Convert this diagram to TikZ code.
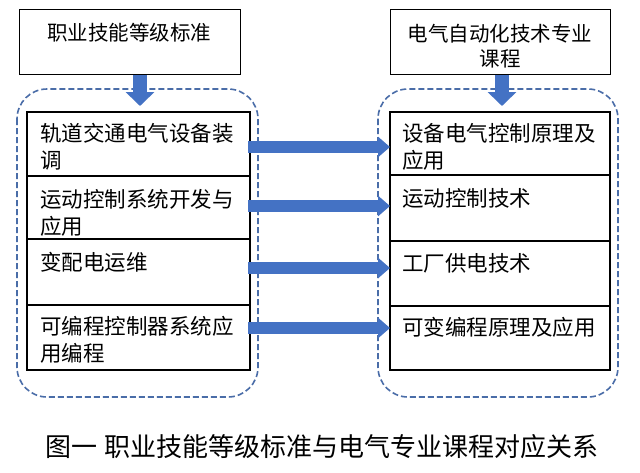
\documentclass[tikz,border=0pt]{standalone}
\usepackage{fontspec}
\setmainfont{Noto Sans CJK SC}
\usetikzlibrary{arrows.meta}
\definecolor{arrowblue}{HTML}{4472C4}
\definecolor{dashblue}{HTML}{4A6DA8}
\tikzset{
  topbox/.style={draw=black, line width=1.2pt, fill=white},
  rowbox/.style={draw=black, line width=1.2pt},
  grp/.style={draw=dashblue, line width=1.6pt, dash pattern=on 6pt off 3pt, rounded corners=30pt},
  fat/.style={draw=arrowblue, line width=12pt, -{Triangle[length=12pt,width=20pt]}},
  downfat/.style={draw=arrowblue, line width=14pt, -{Triangle[length=14pt,width=28pt]}},
  txt/.style={font=\fontsize{21.5}{26.5}\selectfont, align=left, anchor=base west, inner sep=0pt},
}
\begin{document}
\begin{tikzpicture}[x=1pt,y=-1pt]
\useasboundingbox[fill=white] (0,0) rectangle (640,472);
% dashed groups
\draw[grp] (17,89) rectangle (258,397);
\draw[grp] (378,89) rectangle (618,397);
% top boxes
\node[topbox, minimum width=221pt, minimum height=65pt, anchor=north west] (lt) at (19,9) {};
\node[font=\fontsize{20.5}{25}\selectfont, inner sep=0pt, anchor=base] (ltt) at (129,40) {职业技能等级标准};
\node[topbox, minimum width=220pt, minimum height=65pt, anchor=north west] (rt) at (390,9) {};
\node[font=\fontsize{20.5}{25}\selectfont, align=center, inner sep=0pt, anchor=base] (rtt) at (500,66) {电气自动化技术专业\\课程};
% rows
\foreach \a/\b in {112/176, 176/239, 239/305, 305/370}{
  \path[rowbox] (27,\a) rectangle (250,\b);
}
\foreach \a/\b in {112/175, 175/241, 241/306, 306/370}{
  \path[rowbox] (390,\a) rectangle (610,\b);
}
\coordinate (l1) at (248,147); \coordinate (l2) at (248,206);
\coordinate (l3) at (248,268); \coordinate (l4) at (248,328);
\coordinate (r1) at (390,147); \coordinate (r2) at (390,206);
\coordinate (r3) at (390,268); \coordinate (r4) at (390,328);
% texts (base anchor = baseline of last line)
\node[txt] (lt1) at (40,168) {轨道交通电气设备装\\调};
\node[txt] (lt2) at (40,234) {运动控制系统开发与\\应用};
\node[txt] (lt3) at (40,270) {变配电运维};
\node[txt] (lt4) at (40,361) {可编程控制器系统应\\用编程};
\node[txt] (rt1) at (402,168) {设备电气控制原理及\\应用};
\node[txt] (rt2) at (402,206) {运动控制技术};
\node[txt] (rt3) at (402,271) {工厂供电技术};
\node[txt] (rt4) at (402,335) {可变编程原理及应用};
% horizontal arrows
\foreach \i in {1,2,3,4}{
  \draw[fat] (l\i) -- (r\i);
}
% down arrows
\coordinate (ld) at (140,106);
\coordinate (rd) at (502,106);
\draw[downfat] (lt.south -| ld) -- (ld);
\draw[downfat] (rt.south -| rd) -- (rd);
% caption
\node[font=\fontsize{26}{28}\selectfont, inner sep=0pt, anchor=base] (cap) at (322,456) {图一\hspace{8pt}职业技能等级标准与电气专业课程对应关系};
\end{tikzpicture}
\end{document}
